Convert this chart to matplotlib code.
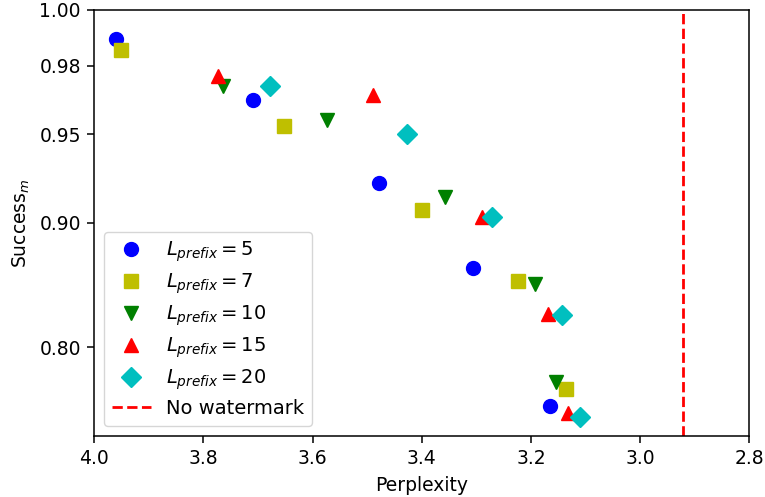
import numpy as np
import matplotlib
matplotlib.use("Agg")
import matplotlib.pyplot as plt

# perplexity / success rate per prefix length
ppl_5  = [3.960, 3.710, 3.478, 3.306, 3.166]
succ_5 = [0.990, 0.966, 0.9245, 0.868, 0.7365]
ppl_7  = [3.952, 3.652, 3.400, 3.223, 3.136]
succ_7 = [0.986, 0.954, 0.908, 0.858, 0.756]
ppl_10  = [3.765, 3.573, 3.357, 3.193, 3.154]
succ_10 = [0.972, 0.957, 0.916, 0.856, 0.764]
ppl_15  = [3.774, 3.490, 3.290, 3.169, 3.133]
succ_15 = [0.976, 0.968, 0.904, 0.831, 0.729]
ppl_20  = [3.678, 3.428, 3.272, 3.144, 3.110]
succ_20 = [0.972, 0.950, 0.904, 0.830, 0.723]
no_watermark_ppl = 2.922

series = [(ppl_5, succ_5, 5, 'bo'),
          (ppl_7, succ_7, 7, 'ys'),
          (ppl_10, succ_10, 10, 'gv'),
          (ppl_15, succ_15, 15, 'r^'),
          (ppl_20, succ_20, 20, 'cD')]

plt.rcParams['font.size'] = 13.5
plt.rcParams['axes.linewidth'] = 1.1
for a in ('xtick', 'ytick'):
    plt.rcParams[a + '.major.width'] = 1.1
    plt.rcParams[a + '.major.size'] = 4.8
    plt.rcParams[a + '.major.pad'] = 4.8

def fwd(y):
    return -np.log(np.clip(1.1 - y, 1e-9, None))

def inv(z):
    return 1.1 - np.exp(-z)

fig, ax = plt.subplots(figsize=(7.65, 4.97), dpi=100)
fig.subplots_adjust(left=0.1233, right=0.9795, top=0.9799, bottom=0.1234)

for x, y, n, fmt in series:
    ax.plot(x, y, fmt, ms=10, label=r'$L_{prefix}=%d$' % n)
ax.axvline(no_watermark_ppl, color='r', linestyle='--', lw=2, label='No watermark')

ax.set_yscale('function', functions=(fwd, inv))
ax.set_ylim(0.70, 1.00)
ax.set_yticks([0.80, 0.90, 0.95, 0.98, 1.00])
ax.set_yticklabels(['%.2f' % t for t in [0.80, 0.90, 0.95, 0.98, 1.00]])
ax.yaxis.set_minor_locator(matplotlib.ticker.NullLocator())
ax.set_xlim(4.0, 2.8)
ax.set_xticks([4.0, 3.8, 3.6, 3.4, 3.2, 3.0, 2.8])
ax.set_xticklabels(['%.1f' % t for t in [4.0, 3.8, 3.6, 3.4, 3.2, 3.0, 2.8]])

ax.set_xlabel('Perplexity', labelpad=5.5)
ax.set_ylabel(r'Success$_m$', labelpad=5.5)
ax.legend(loc='lower left', fontsize=14, labelspacing=0.38)

plt.savefig('out.png')
plt.close()
